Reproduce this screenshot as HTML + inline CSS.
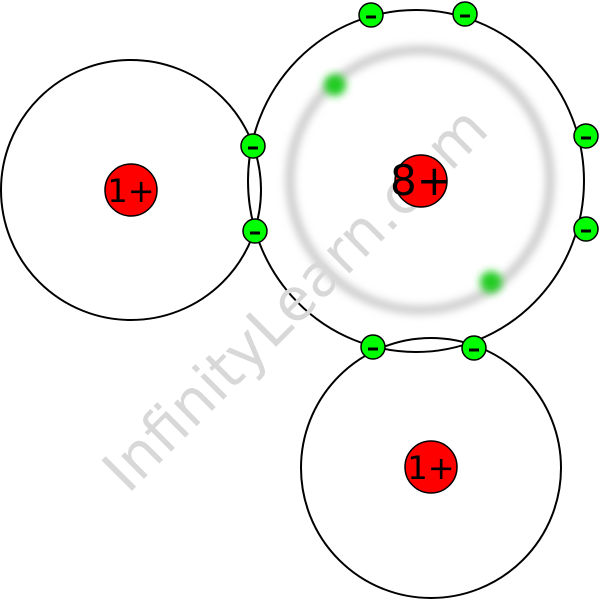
<!DOCTYPE html>
<html><head><style>html,body{margin:0;padding:0;background:#fff;}</style></head>
<body>
<svg width="600" height="600" viewBox="0 0 600 600" xmlns="http://www.w3.org/2000/svg">
<defs>
<filter id="b" x="-50%" y="-50%" width="200%" height="200%"><feGaussianBlur stdDeviation="4"/></filter>
</defs>
<rect width="600" height="600" fill="#fff"/>
<circle cx="131" cy="190" r="130" fill="none" stroke="#000" stroke-width="2"/>
<circle cx="431" cy="468" r="130" fill="none" stroke="#000" stroke-width="2"/>
<ellipse cx="416" cy="181" rx="168" ry="171" fill="none" stroke="#000" stroke-width="2"/>
<circle cx="420" cy="180" r="130" fill="none" stroke="#ccc" stroke-width="9" filter="url(#b)"/>
<circle cx="335" cy="85" r="11" fill="#2c2" filter="url(#b)"/>
<circle cx="491" cy="282" r="11" fill="#2c2" filter="url(#b)"/>
<text x="298" y="302" transform="rotate(-45 298 302)" text-anchor="middle" dominant-baseline="middle" font-family="DejaVu Sans, sans-serif" font-size="59" fill="#d8d8d8">InfinityLearn.com</text>
<g stroke="#000" stroke-width="1.5" fill="#f00">
<circle cx="131" cy="190" r="26"/><circle cx="421" cy="181" r="26"/><circle cx="431" cy="467" r="26"/>
</g>
<g font-family="DejaVu Sans, sans-serif" font-size="32" text-anchor="middle">
<text x="131" y="202">1+</text><text x="421" y="195" font-size="42">8+</text><text x="431" y="479">1+</text>
</g>
<g stroke="#000" stroke-width="1.5" fill="#0f0">
<circle cx="371" cy="15" r="12"/><circle cx="465" cy="14" r="12"/><circle cx="586" cy="136" r="12"/><circle cx="586" cy="229" r="12"/>
<circle cx="253" cy="146" r="12"/><circle cx="255" cy="231" r="12"/><circle cx="373" cy="347" r="12"/><circle cx="474" cy="348" r="12"/>
</g>
<g stroke="#000" stroke-width="3">
<line x1="366" y1="17" x2="376" y2="17"/><line x1="460" y1="16" x2="470" y2="16"/><line x1="581" y1="138" x2="591" y2="138"/><line x1="581" y1="231" x2="591" y2="231"/>
<line x1="248" y1="148" x2="258" y2="148"/><line x1="250" y1="233" x2="260" y2="233"/><line x1="368" y1="349" x2="378" y2="349"/><line x1="469" y1="350" x2="479" y2="350"/>
</g>
</svg>
</body></html>
